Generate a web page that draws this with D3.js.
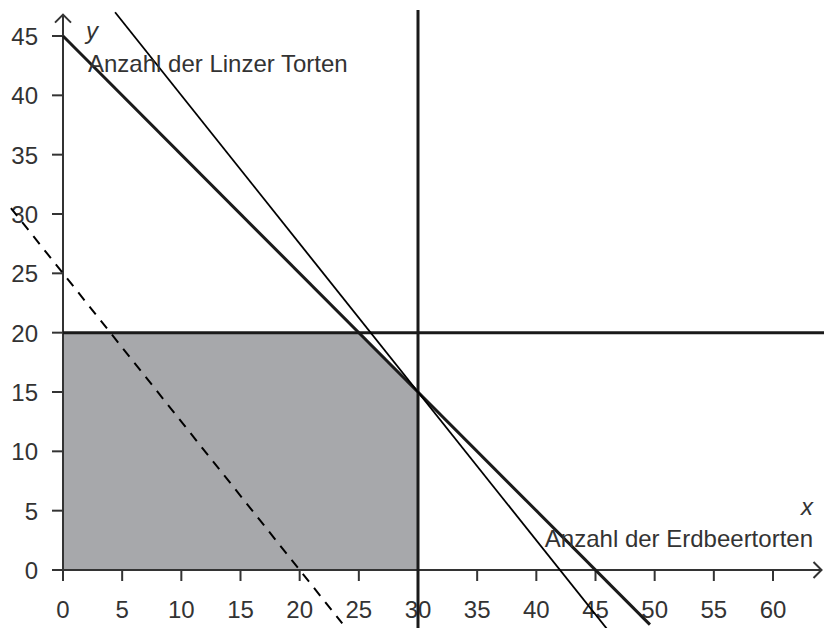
<!DOCTYPE html>
<html>
<head>
<meta charset="utf-8">
<script src="https://cdn.jsdelivr.net/npm/d3@7"></script>
<style>
  html, body { margin: 0; padding: 0; background: #fff; }
  svg { display: block; font-family: "Liberation Sans", Arial, sans-serif; }
  .tick-label { font-size: 24px; fill: #333; }
  .axis-title { font-size: 24px; fill: #333; }
</style>
</head>
<body>
<div id="view"></div>
<script>
(function () {
  // ---------- Daten ----------
  const xTicks = [0, 5, 10, 15, 20, 25, 30, 35, 40, 45, 50, 55, 60];
  const yTicks = [0, 5, 10, 15, 20, 25, 30, 35, 40, 45];

  // zulässiger Bereich (Eckpunkte)
  const feasible = [[0, 0], [0, 20], [25, 20], [30, 15], [30, 0]];

  // Geraden als Endpunkte in Datenkoordinaten
  const lineThick = [[0, 45], [49.6, -4.6]];          // x + y = 45
  const lineThin = [[4.4, 47.0], [46.0, -5.0]];       // 5x + 4y = 210
  const lineDashed = [[-4.4, 30.5], [23.6, -4.5]];    // Zielfunktion
  const lineVert = [[30, 47.2], [30, -5]];            // x = 30
  const lineHoriz = [[0, 20], [64.5, 20]];            // y = 20

  const W = 824, H = 628;

  const x = d3.scaleLinear().domain([0, 60]).range([63, 773]);
  const y = d3.scaleLinear().domain([0, 45]).range([570, 36]);

  const svg = d3.select("#view").append("svg")
    .attr("width", W).attr("height", H);

  const line = d3.line().x(d => x(d[0])).y(d => y(d[1]));

  // --- Fläche ---
  svg.append("path")
    .datum(feasible.concat([feasible[0]]))
    .attr("d", line)
    .attr("fill", "#a7a8ab");

  // --- Achsen ---
  const axisCol = "#333";
  const xAxisEnd = 64.1, yAxisEnd = 46.8;

  svg.append("line")
    .attr("x1", x(0) - 11).attr("x2", x(xAxisEnd))
    .attr("y1", y(0)).attr("y2", y(0))
    .attr("stroke", axisCol).attr("stroke-width", 2);
  svg.append("line")
    .attr("x1", x(0)).attr("x2", x(0))
    .attr("y1", y(0) + 11).attr("y2", y(yAxisEnd))
    .attr("stroke", axisCol).attr("stroke-width", 2);

  // Pfeile
  svg.append("path")
    .attr("d", `M${x(xAxisEnd) - 8},${y(0) - 8} L${x(xAxisEnd)},${y(0)} L${x(xAxisEnd) - 8},${y(0) + 8}`)
    .attr("fill", "none").attr("stroke", axisCol).attr("stroke-width", 2);
  svg.append("path")
    .attr("d", `M${x(0) - 8},${y(yAxisEnd) + 8} L${x(0)},${y(yAxisEnd)} L${x(0) + 8},${y(yAxisEnd) + 8}`)
    .attr("fill", "none").attr("stroke", axisCol).attr("stroke-width", 2);

  // Ticks
  svg.selectAll("line.xtick")
    .data(xTicks.filter(d => d > 0))
    .join("line")
    .attr("class", "xtick")
    .attr("x1", d => x(d)).attr("x2", d => x(d))
    .attr("y1", y(0)).attr("y2", y(0) + 11)
    .attr("stroke", axisCol).attr("stroke-width", 2);
  svg.selectAll("line.ytick")
    .data(yTicks.filter(d => d > 0))
    .join("line")
    .attr("class", "ytick")
    .attr("x1", x(0) - 11).attr("x2", x(0))
    .attr("y1", d => y(d)).attr("y2", d => y(d))
    .attr("stroke", axisCol).attr("stroke-width", 2);

  svg.selectAll("text.xlab")
    .data(xTicks)
    .join("text")
    .attr("class", "tick-label xlab")
    .attr("x", d => x(d))
    .attr("y", y(0) + 48)
    .attr("text-anchor", "middle")
    .text(d => d);
  svg.selectAll("text.ylab")
    .data(yTicks)
    .join("text")
    .attr("class", "tick-label ylab")
    .attr("x", x(0) - 25)
    .attr("y", d => y(d) + 9)
    .attr("text-anchor", "end")
    .text(d => d);

  // --- Geraden ---
  const ink = "#1a1a1a";
  svg.append("path").datum(lineHoriz).attr("d", line)
    .attr("stroke", ink).attr("stroke-width", 3).attr("fill", "none");
  svg.append("path").datum(lineVert).attr("d", line)
    .attr("stroke", ink).attr("stroke-width", 3).attr("fill", "none");
  svg.append("path").datum(lineThick).attr("d", line)
    .attr("stroke", ink).attr("stroke-width", 3).attr("fill", "none");
  svg.append("path").datum(lineThin).attr("d", line)
    .attr("stroke", "#000").attr("stroke-width", 1.8).attr("fill", "none");
  svg.append("path").datum(lineDashed).attr("d", line)
    .attr("stroke", "#000").attr("stroke-width", 2)
    .attr("stroke-dasharray", "10,8").attr("fill", "none");

  // --- Achsentitel ---
  svg.append("text").attr("class", "axis-title")
    .attr("x", 86).attr("y", 39)
    .style("font-style", "italic").text("y");
  svg.append("text").attr("class", "axis-title")
    .attr("x", 88).attr("y", 72)
    .text("Anzahl der Linzer Torten");

  svg.append("text").attr("class", "axis-title")
    .attr("x", 813).attr("y", 515)
    .attr("text-anchor", "end")
    .style("font-style", "italic").text("x");
  svg.append("text").attr("class", "axis-title")
    .attr("x", 813).attr("y", 547)
    .attr("text-anchor", "end")
    .text("Anzahl der Erdbeertorten");
})();
</script>
</body>
</html>
